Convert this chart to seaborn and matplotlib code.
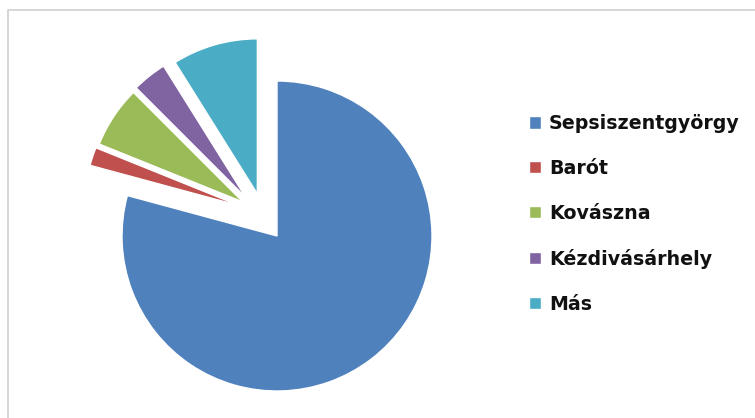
import matplotlib
matplotlib.use("Agg")
import numpy as np
import matplotlib.pyplot as plt
import seaborn as sns

# data (share in %)
cities = ["Sepsiszentgyörgy", "Barót", "Kovászna", "Kézdivásárhely", "Más"]
shares = [79.2, 1.9, 6.4, 3.6, 8.9]
colors = ["#4F81BD", "#C0504D", "#9BBB59", "#8064A2", "#4BACC6"]
# how far each slice is pulled out, and the direction (deg, left of 12 o'clock)
pull = [0, 0.31, 0.31, 0.32, 0.30]
pull_dir = [0, 51, 45, 39, 25]

sns.set_theme(style="white")
plt.rcParams["font.family"] = ["DejaVu Sans"]

W, H = 755, 418
fig = plt.figure(figsize=(W / 100, H / 100), dpi=100)

# pie axes laid out in pixels: centre (277, 236), radius 155
cx, cy, r = 277, 236, 155
x0, x1, y0, y1 = 10, 515, 12, 414
ax = fig.add_axes([x0 / W, (H - y1) / H, (x1 - x0) / W, (y1 - y0) / H])
wedges, _ = ax.pie(shares, colors=colors, startangle=90,
                   counterclock=False, radius=1,
                   wedgeprops=dict(edgecolor="white", linewidth=1))
# Excel-style exploded slices
for w, d, a in zip(wedges, pull, pull_dir):
    t = np.deg2rad(a)
    w.set_center((-d * np.sin(t), d * np.cos(t)))
ax.set_xlim((x0 - cx) / r, (x1 - cx) / r)
ax.set_ylim((cy - y1) / r, (cy - y0) / r)
ax.set_aspect("auto")
ax.axis("off")

# legend
leg = fig.legend(wedges, cities, loc="upper left", bbox_to_anchor=(512 / W, 1 - 97 / H),
                 frameon=False, handlelength=0.62, handleheight=0.62, handletextpad=0.42,
                 labelspacing=1.36, prop=dict(weight="bold", size=13.7))
for t in leg.get_texts():
    t.set_color("#111111")

# chart border (top and left edges visible in the crop)
frame = plt.Line2D([8 / W, 8 / W, 1], [0, 1 - 10 / H, 1 - 10 / H],
                   transform=fig.transFigure, color="#cfcfcf", lw=1.2)
fig.add_artist(frame)

fig.savefig("out.png", dpi=100)
